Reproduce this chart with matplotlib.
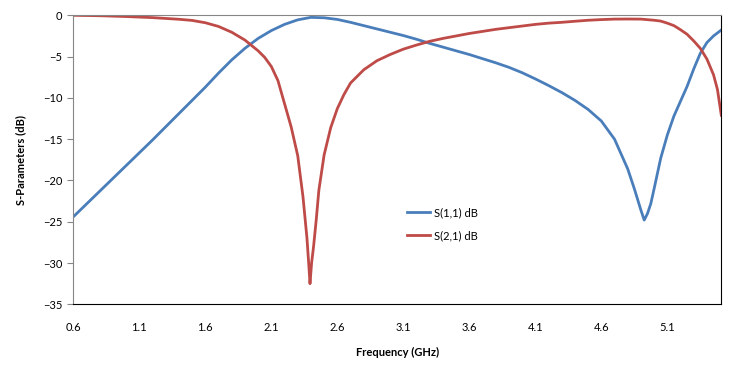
import matplotlib
matplotlib.use('Agg')
import matplotlib.pyplot as plt

# --- DONNEES ---
freq_s11 = [0.60, 0.80, 1.00, 1.20, 1.40, 1.50, 1.60, 1.70, 1.80, 1.90,
            2.00, 2.10, 2.20, 2.30, 2.40, 2.50, 2.60, 2.70, 2.80, 2.90,
            3.00, 3.10, 3.20, 3.30, 3.40, 3.50, 3.60, 3.70, 3.80, 3.90,
            4.00, 4.10, 4.20, 4.30, 4.40, 4.50, 4.60, 4.70, 4.80, 4.85,
            4.90, 4.925, 4.95, 4.975, 5.00, 5.05, 5.10, 5.15, 5.20, 5.25,
            5.30, 5.35, 5.40, 5.45, 5.509]
s11_db = [-24.4, -21.3, -18.2, -15.1, -11.9, -10.3, -8.7, -7.0, -5.4, -4.0,
          -2.8, -1.85, -1.1, -0.55, -0.25, -0.3, -0.5, -0.85, -1.25, -1.65,
          -2.05, -2.45, -2.9, -3.4, -3.85, -4.3, -4.75, -5.25, -5.75, -6.3,
          -6.95, -7.7, -8.5, -9.35, -10.3, -11.4, -12.8, -15.0, -18.6, -21.0,
          -23.6, -24.8, -24.0, -22.8, -21.0, -17.3, -14.5, -12.2, -10.4, -8.6,
          -6.5, -4.6, -3.3, -2.5, -1.78]

freq_s21 = [0.60, 0.80, 1.00, 1.20, 1.40, 1.50, 1.60, 1.70, 1.80, 1.90,
            2.00, 2.05, 2.10, 2.15, 2.20, 2.25, 2.30, 2.34, 2.37, 2.385,
            2.393, 2.405, 2.42, 2.44, 2.46, 2.50, 2.55, 2.60, 2.65, 2.70,
            2.80, 2.90, 3.00, 3.10, 3.20, 3.30, 3.40, 3.50, 3.60, 3.70,
            3.80, 3.90, 4.00, 4.10, 4.20, 4.30, 4.40, 4.50, 4.60, 4.70,
            4.80, 4.90, 5.00, 5.05, 5.10, 5.15, 5.20, 5.25, 5.30, 5.35,
            5.40, 5.45, 5.48, 5.509]
s21_db = [0.0, -0.05, -0.15, -0.28, -0.48, -0.62, -0.9, -1.35, -2.05, -3.0,
          -4.3, -5.1, -6.2, -7.9, -10.7, -13.5, -17.0, -22.0, -27.0, -30.5,
          -32.5, -30.0, -28.0, -24.8, -21.2, -16.9, -13.6, -11.3, -9.6, -8.2,
          -6.6, -5.5, -4.75, -4.1, -3.6, -3.15, -2.8, -2.5, -2.2, -1.95,
          -1.7, -1.5, -1.3, -1.1, -0.95, -0.85, -0.72, -0.6, -0.52, -0.46,
          -0.45, -0.46, -0.6, -0.7, -0.95, -1.25, -1.75, -2.3, -3.1, -4.0,
          -5.3, -7.2, -9.0, -12.1]

x_ticks = [0.6, 1.1, 1.6, 2.1, 2.6, 3.1, 3.6, 4.1, 4.6, 5.1]
y_ticks = [0, -5, -10, -15, -20, -25, -30, -35]

plt.rcParams['font.family'] = ['Lato', 'DejaVu Sans']

fig = plt.figure(figsize=(7.46, 3.77), dpi=100)
ax = fig.add_axes([0.0983, 0.1928, 0.8686, 0.7666])

ax.plot(freq_s11, s11_db, color='#4A7EBB', lw=2.0, solid_joinstyle='round', label='S(1,1) dB')
ax.plot(freq_s21, s21_db, color='#BE4B48', lw=2.0, solid_joinstyle='round', label='S(2,1) dB')

ax.set_xlim(0.6, 5.509)
ax.set_ylim(-35, 0)
ax.set_xticks(x_ticks)
ax.set_xticklabels([f'{v:.1f}' for v in x_ticks])
ax.set_yticks(y_ticks)

# axes facon Excel
ax.spines['left'].set_color('#868686')
ax.spines['top'].set_color('#868686')
ax.spines['right'].set_color('black')
ax.spines['bottom'].set_color('black')
ax.tick_params(axis='y', direction='out', length=4, color='#868686', pad=4, labelsize=8)
ax.tick_params(axis='x', length=0, pad=13, labelsize=8)

ax.set_xlabel('Frequency (GHz)', fontsize=8, fontweight='bold', labelpad=10)
ax.set_ylabel('S-Parameters (dB)', fontsize=8, fontweight='bold', labelpad=12)

ax.legend(loc='upper left', bbox_to_anchor=(0.538, 0.465), bbox_transform=fig.transFigure,
          frameon=False, fontsize=8, handlelength=2.1, handletextpad=0.3,
          labelspacing=1.05, borderpad=0)

fig.savefig('out.png', dpi=100)
